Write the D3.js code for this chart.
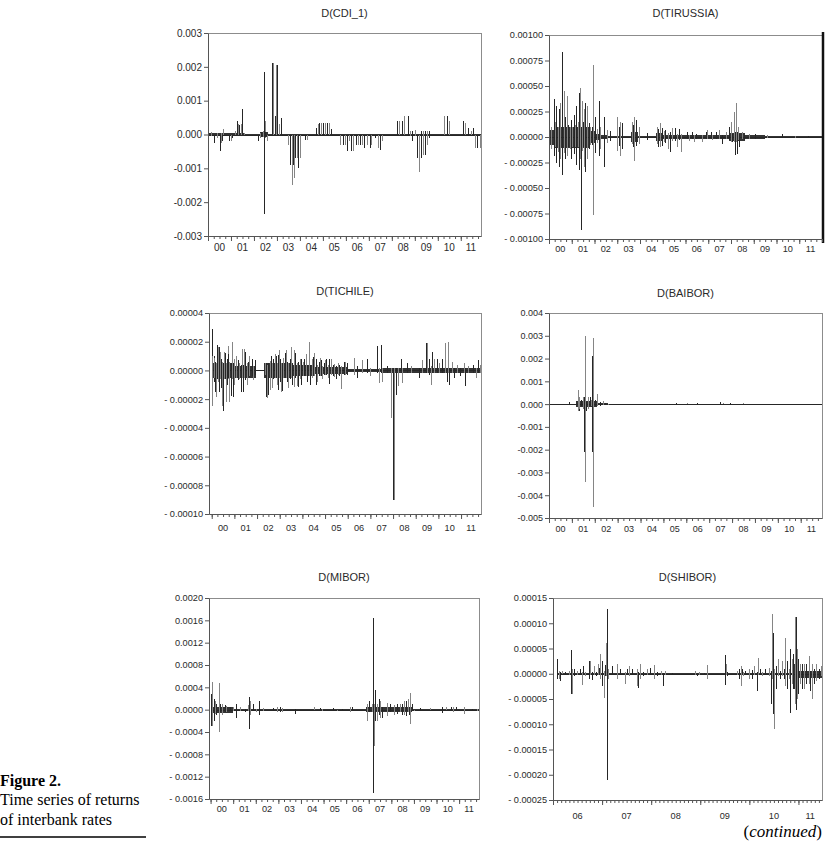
<!DOCTYPE html>
<html>
<head>
<meta charset="utf-8">
<script src="https://cdn.jsdelivr.net/npm/d3@7"></script>
<style>
  body { margin: 0; background: #fff; }
  svg { display: block; }
</style>
</head>
<body>
<div id="plotDiv"></div>
<script>
// ---- data: each spike is [year, high, low] ----
const cdiSpikes = [
  [2000.03, 0.00005, -0.00005], [2000.12, 0.00008, -0.00003], [2000.25, 0, -0.00024], [2000.40, 0.00003, -0.0001],
  [2000.52, 0, -0.0005], [2000.58, 0.00005, -0.00025], [2000.62, 0, -0.0002], [2000.66, 0.00015, 0],
  [2000.91, 0, -0.0002], [2000.99, 0, -0.0002], [2001.06, 0, -0.0001], [2001.17, 0.0001, 0],
  [2001.25, 0.0004, 0], [2001.30, 0.0003, 0], [2001.34, 0.00028, 0], [2001.43, 0.0003, 0],
  [2001.49, 0.00075, 0], [2001.55, 0.00005, -0.00002], [2002.17, 0, -0.0002], [2002.25, 0.00005, -0.0001],
  [2002.32, 0.00008, -0.00006], [2002.38, 0.0001, -0.00008], [2002.42, 0.00185, -0.00235], [2002.46, 0.0004, -0.0001],
  [2002.50, 0.00008, -0.00008], [2002.55, 0, -0.0002], [2002.79, 0.0021, 0], [2002.83, 0.0021, 0],
  [2002.92, 0.00055, 0], [2002.98, 0.00205, 0], [2003.02, 0.00205, 0], [2003.08, 0.0003, 0],
  [2003.16, 0.0005, 0], [2003.50, 0, -0.0003], [2003.57, 0, -0.0009], [2003.64, 0, -0.0015],
  [2003.70, 0, -0.0009], [2003.75, 0, -0.0013], [2003.79, 0, -0.0007], [2003.86, 0, -0.0007],
  [2003.91, 0, -0.001], [2004.00, 0, -0.0007], [2004.23, 0, -0.00015], [2004.30, 0, -0.00015],
  [2004.72, 0.0002, 0], [2004.77, 0.0003, 0], [2004.82, 0.00035, 0], [2004.91, 0.00035, 0],
  [2005.00, 0.00035, 0], [2005.09, 0.00035, 0], [2005.19, 0.00035, 0], [2005.27, 0.00035, 0],
  [2005.37, 0.00015, 0], [2005.75, 0, -0.0003], [2005.86, 0, -0.0003], [2005.97, 0, -0.0003],
  [2006.05, 0, -0.0005], [2006.15, 0, -0.0002], [2006.22, 0, -0.0005], [2006.33, 0, -0.0005],
  [2006.42, 0, -0.0003], [2006.52, 0, -0.0003], [2006.62, 0, -0.0003], [2006.71, 0, -0.0003],
  [2006.81, 0, -0.0004], [2006.92, 0, -0.0003], [2007.04, 0, -0.0004], [2007.11, 0, -0.0003],
  [2007.25, 0, -0.0001], [2007.40, 0, -0.0004], [2007.48, 0, -0.00045], [2007.57, 0, -0.0002],
  [2008.22, 0.0004, 0], [2008.32, 0.0004, 0], [2008.44, 0.0004, 0], [2008.55, 0.00055, 0],
  [2008.70, 0.00055, 0], [2008.80, 0.0001, -0.00005], [2008.88, 0.0001, -0.0002], [2009.00, 0.00012, -0.00005],
  [2009.10, 0, -0.0007], [2009.19, 0, -0.0011], [2009.28, 0.0001, -0.0007], [2009.37, 0.0001, -0.0006],
  [2009.44, 0.0001, -0.0006], [2009.51, 0.0001, -0.0003], [2009.60, 0.0001, -0.0001], [2010.28, 0.00055, 0],
  [2010.40, 0.00055, 0], [2010.50, 0.0004, 0], [2011.09, 0.0004, 0], [2011.17, 0.00035, 0],
  [2011.31, 0.0002, 0], [2011.43, 0.0001, 0], [2011.53, 0.0002, 0], [2011.61, 0, -0.0004],
  [2011.72, 0, -0.0004], [2011.83, 0, -0.0004]
];
const cdiBandT = [2000.0, 2001.6, 2002.25, 2002.6, 2011.88];
const cdiBandHi = [0.00003, 0.00001, 0.00008, 0.00001, 0.00001];
const cdiBandLo = [-0.00003, -0.00001, -0.00008, -0.00001, -0.00001];

const rusSpikes = [
  [2000.00, 0.00015, -0.00006], [2000.09, 0.0001, -0.00012], [2000.23, 0.00037, -0.00019], [2000.28, 0.00015, -0.0001],
  [2000.32, 0.0003, -0.00025], [2000.38, 0.0001, -0.00015], [2000.43, 0.00027, -0.00029], [2000.50, 0.00033, -0.00022],
  [2000.57, 0.00083, -0.00037], [2000.65, 0.00045, -0.00016], [2000.72, 0.0002, -0.00022], [2000.79, 0.0004, -0.00019],
  [2000.85, 0.00012, -0.0001], [2000.91, 0.0001, -0.00012], [2000.97, 0.00017, -0.00022], [2001.03, 0.0001, -0.0001],
  [2001.09, 0.00022, -0.00017], [2001.15, 0.00012, -0.0001], [2001.20, 0.0003, -0.00027], [2001.26, 0.00015, -0.0001],
  [2001.31, 0.00043, -0.00032], [2001.38, 0.00048, -0.00022], [2001.42, 0.0001, -0.00091], [2001.45, 0.00035, -0.00014],
  [2001.50, 0.00015, -0.0001], [2001.53, 0.00027, -0.00029], [2001.60, 0.00033, -0.00034], [2001.67, 0.0003, -0.00022],
  [2001.75, 0.00014, -0.00012], [2001.82, 0.0001, -0.00008], [2001.90, 0.0001, -0.00008], [2001.94, 0.00071, -0.00076],
  [2002.04, 0.0002, -0.00016], [2002.12, 0.00008, -0.00006], [2002.19, 0.00035, -0.00019], [2002.26, 0.0001, -0.00012],
  [2002.41, 0.0002, -0.00029], [2002.55, 0.00007, -0.00006], [2002.70, 0.00006, -0.00004], [2002.99, 0.0002, -0.00014],
  [2003.07, 0.0001, -0.00009], [2003.14, 0.00015, -0.00019], [2003.21, 0.00014, -0.00012], [2003.65, 0.00015, -0.00007],
  [2003.70, 0.00012, -0.0001], [2003.75, 0.0002, -0.00024], [2003.84, 0.00017, -0.00009], [2003.95, 0.0001, -0.00007],
  [2004.31, 0.00004, -0.00003], [2004.75, 0.0001, -0.00007], [2004.80, 0.00008, -0.0001], [2004.87, 0.00014, -0.0001],
  [2004.97, 0.00009, -0.00009], [2005.05, 0.00006, -0.00005], [2005.12, 0.00007, -0.00006], [2005.22, 0.00004, -0.00012],
  [2005.34, 0.00005, -0.00015], [2005.41, 0.00009, -0.00004], [2005.56, 0.00009, -0.00004], [2005.63, 0.00003, -0.0001],
  [2005.73, 0.00008, -0.00003], [2005.82, 0.00003, -0.00015], [2006.07, 0.00005, -0.00002], [2006.14, 0.00002, -0.00004],
  [2006.29, 0.00005, -0.00002], [2006.36, 0.00002, -0.00005], [2006.44, 0.00003, -0.00002], [2006.73, 0.00002, -0.00005],
  [2006.88, 0.00005, -0.00002], [2006.95, 0.00007, -0.00002], [2007.10, 0.00005, -0.00002], [2007.17, 0.00002, -0.00003],
  [2007.32, 0.00005, -0.00002], [2007.47, 0.00007, -0.00002], [2007.61, 0.00002, -0.00007], [2007.76, 0.00005, -0.00002],
  [2007.90, 0.0001, -0.00003], [2007.98, 0.00015, -0.00005], [2008.05, 0.00003, -0.00005], [2008.13, 0.00025, -0.00005],
  [2008.17, 0.00005, -0.00018], [2008.23, 0.00033, -0.00005], [2008.27, 0.00005, -0.00017], [2008.31, 0.0001, -0.00003],
  [2008.37, 0.00003, -0.0001], [2008.49, 0.00005, -0.00002], [2008.56, 0.00002, -0.00003], [2008.80, 0.00003, -0.00002],
  [2009.05, 0.00003, -0.00002], [2009.60, 0.00002, -0.00001], [2010.22, 0.00003, -0.00001], [2010.80, 0.00001, -0.00001],
  [2011.40, 0.00001, -0.00001]
];
const rusBandT = [2000.0, 2000.2, 2001.8, 2002.0, 2002.3, 2002.6, 2003.6, 2003.9, 2004.7, 2005.0, 2007.9, 2008.6, 2009.5, 2012.0];
const rusBandHi = [0.00007, 0.0001, 0.00006, 0.00003, 0.000015, 0.00001, 0.00005, 0.00001, 0.00004, 0.00002, 0.00004, 0.000015, 0.000006, 0.000006];
const rusBandLo = [-0.00008, -0.00011, -0.00006, -0.00003, -0.000015, -0.00001, -0.00005, -0.00001, -0.00004, -0.00002, -0.00004, -0.000015, -0.000006, -0.000006];

const chileSpikes = [
  [2000.00, 0.000029, -0.000008], [2000.02, 0.00001, -0.000025], [2000.09, 0.00001, -0.000008], [2000.12, 0.000009, -0.000005],
  [2000.16, 0.000006, -0.000015], [2000.19, 0.000005, -0.0000185], [2000.23, 0.000018, -0.000006], [2000.28, 0.000016, -0.000008],
  [2000.34, 0.000016, -0.000015], [2000.38, 0.000013, -0.000006], [2000.43, 0.000008, -0.000012], [2000.47, 0.000006, -0.000025],
  [2000.50, 0.000005, -0.000028], [2000.56, 0.0000127, -0.000006], [2000.60, 0.000012, -0.000006], [2000.63, 0.000005, -0.000022],
  [2000.67, 0.000008, -0.00001], [2000.72, 0.000017, -0.000006], [2000.74, 0.0000116, -0.000005], [2000.77, 0.000006, -0.000022],
  [2000.84, 0.000005, -0.000018], [2000.88, 0.0000197, -0.000006], [2000.93, 0.000005, -0.0000185], [2000.97, 0.000008, -0.00001],
  [2001.05, 0.000006, -0.000005], [2001.09, 0.00001, -0.000005], [2001.15, 0.000007, -0.000007], [2001.22, 0.000005, -0.000006],
  [2001.30, 0.000004, -0.000015], [2001.34, 0.000015, -0.000005], [2001.37, 0.000004, -0.000015], [2001.41, 0.000015, -0.000005],
  [2001.47, 0.0000127, -0.0000069], [2001.54, 0.000005, -0.00001], [2001.60, 0.000006, -0.000004], [2001.66, 0.00001, -0.000004],
  [2001.76, 0.000008, -0.000004], [2001.81, 0.000003, -0.0000069], [2001.91, 0.000007, -0.000003], [2002.35, 0.000005, -0.000003],
  [2002.40, 0.000005, -0.0000185], [2002.43, 0.000004, -0.000019], [2002.50, 0.000005, -0.000017], [2002.55, 0.0000069, -0.0000139],
  [2002.60, 0.00001, -0.000005], [2002.66, 0.000005, -0.000012], [2002.72, 0.000008, -0.000006], [2002.77, 0.0000116, -0.000005],
  [2002.83, 0.00001, -0.000005], [2002.87, 0.000005, -0.00001], [2002.91, 0.0000104, -0.0000139], [2002.96, 0.000014, -0.000005],
  [2003.02, 0.000008, -0.000008], [2003.06, 0.000005, -0.000015], [2003.10, 0.000005, -0.000014], [2003.16, 0.000009, -0.000005],
  [2003.23, 0.000012, -0.000005], [2003.28, 0.000014, -0.000005], [2003.34, 0.000006, -0.000008], [2003.38, 0.000005, -0.000012],
  [2003.45, 0.000008, -0.000006], [2003.50, 0.000016, -0.000005], [2003.56, 0.000005, -0.00001], [2003.62, 0.0000139, -0.0000116],
  [2003.68, 0.000012, -0.000005], [2003.75, 0.000005, -0.000011], [2003.80, 0.000006, -0.0000116], [2003.88, 0.000008, -0.000006],
  [2003.94, 0.0000081, -0.0000104], [2004.02, 0.000006, -0.000004], [2004.08, 0.000008, -0.000004], [2004.16, 0.0000116, -0.000004],
  [2004.22, 0.000004, -0.000008], [2004.31, 0.0000197, -0.000004], [2004.35, 0.000004, -0.00001], [2004.41, 0.000008, -0.000005],
  [2004.46, 0.0000092, -0.000004], [2004.52, 0.000012, -0.000004], [2004.60, 0.0000081, -0.0000104], [2004.66, 0.000004, -0.000008],
  [2004.72, 0.000006, -0.000004], [2004.79, 0.000009, -0.000004], [2004.83, 0.000007, -0.000004], [2004.88, 0.000003, -0.000006],
  [2004.95, 0.000005, -0.000003], [2005.01, 0.000007, -0.000003], [2005.05, 0.0000081, -0.000003], [2005.12, 0.000004, -0.000005],
  [2005.19, 0.0000081, -0.0000092], [2005.25, 0.000008, -0.000003], [2005.33, 0.000004, -0.000004], [2005.41, 0.0000046, -0.0000046],
  [2005.47, 0.000003, -0.000006], [2005.55, 0.000005, -0.000003], [2005.63, 0.000004, -0.000004], [2005.72, 0.000003, -0.000013],
  [2005.82, 0.000006, -0.000003], [2005.88, 0.0000058, -0.000003], [2005.97, 0.000005, -0.000003], [2006.26, 0.000009, -0.000003],
  [2006.41, 0.000003, -0.000005], [2006.63, 0.000007, -0.000002], [2006.85, 0.000008, -0.000002], [2007.00, 0.000002, -0.000004],
  [2007.30, 0.000017, -0.000002], [2007.40, 0.000002, -0.000009], [2007.49, 0.000018, -0.000002], [2007.52, 0.000002, -0.000008],
  [2007.74, 0.000003, -0.000002], [2007.89, 0.000002, -0.000033], [2007.99, 0.000002, -0.00009], [2008.06, 0.000002, -0.00009],
  [2008.15, 0.000002, -0.000017], [2008.21, 0.000002, -0.000011], [2008.33, 0.000008, -0.000002], [2008.40, 0.000002, -0.000009],
  [2008.60, 0.000005, -0.000002], [2008.77, 0.000003, -0.000002], [2009.14, 0.000002, -0.000005], [2009.29, 0.000007, -0.000002],
  [2009.47, 0.000019, -0.000002], [2009.51, 0.000019, -0.000002], [2009.59, 0.000008, -0.000003], [2009.66, 0.000003, -0.00001],
  [2009.73, 0.000013, -0.000002], [2009.81, 0.000008, -0.000002], [2009.93, 0.000008, -0.000002], [2010.03, 0.000005, -0.000002],
  [2010.18, 0.000008, -0.000002], [2010.28, 0.000019, -0.000002], [2010.37, 0.000002, -0.000008], [2010.43, 0.00002, -0.000002],
  [2010.47, 0.000002, -0.00001], [2010.62, 0.000006, -0.000002], [2010.69, 0.000002, -0.000005], [2010.84, 0.000004, -0.000002],
  [2010.96, 0.000002, -0.000004], [2011.14, 0.000005, -0.000002], [2011.18, 0.000002, -0.000011], [2011.29, 0.000003, -0.000002],
  [2011.51, 0.000004, -0.000002], [2011.65, 0.000002, -0.000005], [2011.73, 0.000007, -0.000002], [2011.85, 0.000004, -0.000002]
];
const chileBandT = [2000.0, 2001.0, 2001.95, 2002.3, 2003.5, 2004.5, 2006.0, 2007.5, 2008.3, 2009.8, 2011.88];
const chileBandHi = [0.000005, 0.000003, 0.0000005, 0.000005, 0.000004, 0.0000025, 0.0000012, 0.0000015, 0.000002, 0.0000015, 0.0000015];
const chileBandLo = [-0.000005, -0.000005, -0.0000005, -0.000005, -0.000004, -0.0000025, -0.0000012, -0.0000015, -0.000002, -0.0000015, -0.0000015];

const baiborSpikes = [
  [2000.89, 0.0001, 0], [2001.26, 0.0006, -0.0003], [2001.29, 0.0002, -0.0003], [2001.33, 0.0003, -0.0002],
  [2001.40, 0.0002, -0.0001], [2001.48, 0.0003, -0.0002], [2001.55, 0.0003, -0.0021], [2001.58, 0.003, -0.0034],
  [2001.62, 0.0001, -0.0003], [2001.70, 0.0003, -0.0002], [2001.77, 0.0003, -0.0001], [2001.84, 0.0002, -0.0001],
  [2001.89, 0.0021, -0.0021], [2001.94, 0.0029, -0.0045], [2002.03, 0.0002, -0.0001], [2002.11, 0.00045, -0.0001],
  [2002.21, 0.0001, -0.0001], [2002.35, 0.00015, -0.00005], [2002.43, 0.00003, -0.00005], [2002.57, 0.00002, -0.00005],
  [2005.57, 0.00003, 0], [2006.01, 0.00004, 0], [2006.45, 0.00003, 0], [2006.89, 0.00002, 0],
  [2007.47, 0.0001, 0], [2007.62, 0.00005, 0], [2007.91, 0.00003, 0], [2008.49, 0.00003, 0]
];
const baiborBandT = [2000.0, 2001.2, 2002.1, 2002.6, 2011.93];
const baiborBandHi = [0.00001, 0.00012, 0.00004, 0.00001, 0.00001];
const baiborBandLo = [-0.00001, -0.00012, -0.00004, -0.00001, -0.00001];

const miborSpikes = [
  [2000.03, 0.00028, -0.0003], [2000.07, 0.0005, -0.0003], [2000.13, 0.0002, -0.0002], [2000.18, 0.00015, -0.00008],
  [2000.25, 0.0001, -0.0001], [2000.37, 0.00048, -0.0004], [2000.43, 0.0001, -0.00005], [2000.52, 0.0001, -0.0001],
  [2000.62, 0.00008, -0.00005], [2000.70, 0.00007, -0.00005], [2000.84, 0.00005, -0.00003], [2000.99, 0.00005, -0.00003],
  [2001.14, 0.0001, -0.00015], [2001.29, 0.00005, -0.00003], [2001.51, 0.00002, -0.00005], [2001.66, 0.00008, -0.00003],
  [2001.70, 0.00022, -0.00035], [2001.76, 0.00015, -0.0001], [2001.88, 0.0001, -0.00003], [2002.00, 0.00002, -0.00005],
  [2002.15, 0.00015, -0.0001], [2002.33, 0.00003, -0.00002], [2002.77, 0.00003, -0.00002], [2002.92, 0.00004, -0.00004],
  [2003.07, 0.00005, -0.00005], [2003.14, 0.00003, -0.00005], [2003.73, 0.00002, -0.00008], [2004.58, 0.00004, 0],
  [2004.84, 0.00003, -0.00001], [2004.92, 0.00001, -0.00003], [2005.44, 0.00003, 0], [2005.59, 0, -0.00002],
  [2005.81, 0.00002, 0], [2006.18, 0.00005, -0.00005], [2006.25, 0.00005, -0.00002], [2006.92, 0.0001, -0.0002],
  [2006.99, 0.00015, -0.00005], [2007.14, 0.0001, -0.00005], [2007.21, 0.00165, -0.0015], [2007.24, 0.0001, -0.00065],
  [2007.29, 0.00035, -0.0002], [2007.36, 0.0001, -0.0002], [2007.44, 0.0002, -0.0001], [2007.51, 0.00015, -0.00015],
  [2007.59, 0.00005, -0.00015], [2007.81, 0.00012, -0.00012], [2007.96, 0.0001, -0.00005], [2008.10, 0.00008, -0.0001],
  [2008.25, 0.0001, -0.00008], [2008.40, 0.0001, -0.00005], [2008.47, 0.0001, -0.0001], [2008.58, 0.00015, -0.0001],
  [2008.67, 0.00015, -0.00012], [2008.73, 0.0002, -0.00005], [2008.77, 0.00005, -0.0001], [2008.84, 0.0003, -0.00025],
  [2008.92, 0.0001, -0.00003], [2008.99, 0, -0.00002], [2009.29, 0.00003, 0], [2009.73, 0.00003, 0],
  [2010.25, 0.00004, -0.00006], [2010.40, 0.00004, 0], [2010.62, 0.00004, -0.00002], [2010.74, 0.00004, -0.00004],
  [2010.84, 0.00004, 0], [2011.21, 0.00005, -0.00008], [2011.59, 0.00002, 0], [2011.78, 0.00002, -0.00002]
];
const miborBandT = [2000.0, 2001.0, 2002.2, 2006.9, 2008.9, 2011.88];
const miborBandHi = [0.00005, 0.00002, 0.00001, 0.00005, 0.00001, 0.00001];
const miborBandLo = [-0.00006, -0.00002, -0.00001, -0.00005, -0.00001, -0.00001];

const shiborSpikes = [
  [2006.08, 0.00003, -0.00001], [2006.12, 0.000005, -0.00001], [2006.15, 0.000003, -0.000015], [2006.18, 0.000005, 0],
  [2006.25, 0.000003, -0.000003], [2006.32, 0.000005, -0.000002], [2006.37, 0.000048, -0.00004], [2006.39, 0.00001, -0.00004],
  [2006.42, 0.00001, -0.000005], [2006.49, 0.000005, -0.000003], [2006.56, 0.00001, -0.000003], [2006.59, 0.000003, -0.000022],
  [2006.62, 0.000015, -0.000003], [2006.66, 0.000003, -0.000005], [2006.73, 0.000025, -0.00001], [2006.76, 0.000025, -0.000003],
  [2006.79, 0.000003, -0.000012], [2006.83, 0.000015, -0.000003], [2006.88, 0.000003, -0.000005], [2006.91, 0.00002, -0.000003],
  [2006.93, 0.000012, -0.000003], [2006.96, 0.00004, -0.00001], [2007.00, 0.000025, -0.000025], [2007.03, 0.000005, -0.000048],
  [2007.05, 0.000018, -0.000005], [2007.08, 0.00006, -0.000005], [2007.10, 0.000128, -0.00021], [2007.13, 0.00001, -0.00001],
  [2007.20, 0.000015, -0.000003], [2007.30, 0.00002, -0.00001], [2007.37, 0.00001, -0.000003], [2007.47, 0.000003, -0.00002],
  [2007.51, 0.00001, -0.000003], [2007.54, 0.000015, -0.000005], [2007.61, 0.00001, -0.000003], [2007.71, 0.00001, -0.000025],
  [2007.74, 0.000003, -0.000028], [2007.78, 0.00002, -0.00001], [2007.83, 0.000003, -0.000005], [2007.91, 0.00001, -0.000003],
  [2007.98, 0.000012, -0.000003], [2008.05, 0.000018, -0.00001], [2008.12, 0.000003, -0.000005], [2008.19, 0.000005, -0.000002],
  [2008.24, 0.000002, -0.000025], [2008.29, 0.000005, -0.000002], [2008.42, 0.000002, -0.000003], [2008.90, 0.000005, -0.000002],
  [2008.93, 0.000002, -0.000005], [2008.97, 0.000004, -0.000002], [2009.07, 0.000002, -0.000003], [2009.14, 0.000018, -0.00001],
  [2009.50, 0.000038, -0.000022], [2009.52, 0.00002, -0.000003], [2009.54, 0.000003, -0.000005], [2009.75, 0.000005, -0.000002],
  [2009.78, 0.00001, -0.00001], [2009.82, 0.000015, -0.000025], [2009.85, 0.00001, -0.000003], [2009.88, 0.000003, -0.000005],
  [2009.92, 0.000005, -0.000002], [2009.99, 0.00001, -0.00001], [2010.05, 0.000008, -0.00001], [2010.09, 0.000015, -0.000003],
  [2010.15, 0.000003, -0.000035], [2010.18, 0.000032, -0.000003], [2010.22, 0.00001, -0.000003], [2010.26, 0.000003, -0.000005],
  [2010.32, 0.00001, -0.000003], [2010.41, 0.000012, -0.000005], [2010.44, 0.000005, -0.00006], [2010.47, 0.000118, -0.00001],
  [2010.49, 0.00008, -0.00008], [2010.51, 0.00001, -0.00011], [2010.54, 0.000015, -0.00003], [2010.58, 0.00003, -0.000005],
  [2010.62, 0.000005, -0.00001], [2010.66, 0.000025, -0.000005], [2010.70, 0.00001, -0.00001], [2010.73, 0.00007, -0.000025],
  [2010.77, 0.000025, -0.00003], [2010.80, 0.00001, -0.00001], [2010.83, 0.00005, -0.000078], [2010.87, 0.00003, -0.00002],
  [2010.89, 0.00004, -0.00003], [2010.92, 0.000112, -0.00006], [2010.95, 0.000113, -0.000072], [2010.97, 0.00005, -0.00005],
  [2011.00, 0.00003, -0.00004], [2011.04, 0.00002, -0.00002], [2011.07, 0.00002, -0.00003], [2011.11, 0.00002, -0.00003],
  [2011.15, 0.00002, -0.00002], [2011.21, 0.000035, -0.00002], [2011.24, 0.000005, -0.000035], [2011.27, 0.00002, -0.00005],
  [2011.31, 0.00001, -0.00002], [2011.36, 0.00002, -0.000015], [2011.41, 0.00001, -0.00001], [2011.46, 0.000015, -0.000005]
];
const shiborBandT = [2006.08, 2010.88, 2011.0, 2011.48];
const shiborBandHi = [0.000001, 0.00002, 0.000005, 0.000005];
const shiborBandLo = [-0.000001, -0.00003, -0.000008, -0.000008];

// ---- tick values and labels ----
const cdiTicks = [0.003, 0.002, 0.001, 0, -0.001, -0.002, -0.003];
const cdiTickLabels = ["0.003", "0.002", "0.001", "0.000", "-0.001", "-0.002", "-0.003"];
const rusTicks = [0.001, 0.00075, 0.0005, 0.00025, 0, -0.00025, -0.0005, -0.00075, -0.001];
const rusTickLabels = ["0.00100", "0.00075", "0.00050", "0.00025", "0.00000", "- 0.00025", "- 0.00050", "- 0.00075", "- 0.00100"];
const chileTicks = [0.00004, 0.00002, 0, -0.00002, -0.00004, -0.00006, -0.00008, -0.0001];
const chileTickLabels = ["0.00004", "0.00002", "0.00000", "- 0.00002", "- 0.00004", "- 0.00006", "- 0.00008", "- 0.00010"];
const baiborTicks = [0.004, 0.003, 0.002, 0.001, 0, -0.001, -0.002, -0.003, -0.004, -0.005];
const baiborTickLabels = ["0.004", "0.003", "0.002", "0.001", "0.000", "-0.001", "-0.002", "-0.003", "-0.004", "-0.005"];
const miborTicks = [0.002, 0.0016, 0.0012, 0.0008, 0.0004, 0, -0.0004, -0.0008, -0.0012, -0.0016];
const miborTickLabels = ["0.0020", "0.0016", "0.0012", "0.0008", "0.0004", "0.0000", "- 0.0004", "- 0.0008", "- 0.0012", "- 0.0016"];
const shiborTicks = [0.00015, 0.0001, 0.00005, 0, -0.00005, -0.0001, -0.00015, -0.0002, -0.00025];
const shiborTickLabels = ["0.00015", "0.00010", "0.00005", "0.00000", "- 0.00005", "- 0.00010", "- 0.00015", "- 0.00020", "- 0.00025"];

const yearsLong = [2000, 2001, 2002, 2003, 2004, 2005, 2006, 2007, 2008, 2009, 2010, 2011];
const yearLabelsLong = ["00", "01", "02", "03", "04", "05", "06", "07", "08", "09", "10", "11"];
const yearsShibor = [2006, 2007, 2008, 2009, 2010, 2011];
const yearLabelsShibor = ["06", "07", "08", "09", "10", "11"];

// ---- layout of the six panels ----
const panels = [
  {title: "D(CDI_1)", spikes: cdiSpikes, bandT: cdiBandT, bandHi: cdiBandHi, bandLo: cdiBandLo,
   ticks: cdiTicks, tickLabels: cdiTickLabels, years: yearsLong, yearLabels: yearLabelsLong,
   domain: [2000, 2011.88], dataRange: [2000, 2011.88], perYear: 4,
   left: 208, right: 481, top: 33, bottom: 236, titleY: 17, labelDy: 15, font: 10},
  {title: "D(TIRUSSIA)", spikes: rusSpikes, bandT: rusBandT, bandHi: rusBandHi, bandLo: rusBandLo,
   ticks: rusTicks, tickLabels: rusTickLabels, years: yearsLong, yearLabels: yearLabelsLong,
   domain: [2000, 2012], dataRange: [2000, 2012], perYear: 4,
   left: 549, right: 822, top: 35, bottom: 239, titleY: 17, labelDy: 13, font: 9.2, darkRight: true},
  {title: "D(TICHILE)", spikes: chileSpikes, bandT: chileBandT, bandHi: chileBandHi, bandLo: chileBandLo,
   ticks: chileTicks, tickLabels: chileTickLabels, years: yearsLong, yearLabels: yearLabelsLong,
   domain: [1999.88, 2011.88], dataRange: [2000, 2011.88], perYear: 4,
   left: 209, right: 481, top: 313, bottom: 514, titleY: 295, labelDy: 17, font: 9.2},
  {title: "D(BAIBOR)", spikes: baiborSpikes, bandT: baiborBandT, bandHi: baiborBandHi, bandLo: baiborBandLo,
   ticks: baiborTicks, tickLabels: baiborTickLabels, years: yearsLong, yearLabels: yearLabelsLong,
   domain: [2000, 2011.93], dataRange: [2000, 2011.93], perYear: 4,
   left: 549, right: 822, top: 313, bottom: 518, titleY: 297, labelDy: 14, font: 9},
  {title: "D(MIBOR)", spikes: miborSpikes, bandT: miborBandT, bandHi: miborBandHi, bandLo: miborBandLo,
   ticks: miborTicks, tickLabels: miborTickLabels, years: yearsLong, yearLabels: yearLabelsLong,
   domain: [1999.93, 2011.88], dataRange: [2000, 2011.88], perYear: 4,
   left: 209, right: 479, top: 598, bottom: 799, titleY: 581, labelDy: 13, font: 9.2},
  {title: "D(SHIBOR)", spikes: shiborSpikes, bandT: shiborBandT, bandHi: shiborBandHi, bandLo: shiborBandLo,
   ticks: shiborTicks, tickLabels: shiborTickLabels, years: yearsShibor, yearLabels: yearLabelsShibor,
   domain: [2006, 2011.48], dataRange: [2006.08, 2011.48], perYear: 12,
   left: 553, right: 822, top: 598, bottom: 800, titleY: 581, labelDy: 19, font: 9.2}
];

const svg = d3.select("#plotDiv").append("svg")
  .attr("width", 827)
  .attr("height", 843)
  .style("font-family", "'Liberation Sans', Arial, sans-serif");

const darkLine = "#262626";
const greyLine = "#858585";

panels.forEach(function(p) {
  const g = svg.append("g");
  const x = d3.scaleLinear().domain(p.domain).range([p.left, p.right]);
  const y = d3.scaleLinear()
    .domain([p.ticks[p.ticks.length - 1], p.ticks[0]])
    .range([p.bottom, p.top]);

  // title
  g.append("text")
    .attr("x", (p.left + p.right) / 2)
    .attr("y", p.titleY)
    .attr("text-anchor", "middle")
    .style("font-size", "11px")
    .style("fill", "#2a2a2a")
    .text(p.title);

  // top and right border of the plot box
  g.append("path")
    .attr("d", `M${p.left},${p.top + 0.5}H${p.right + 0.5}V${p.bottom}`)
    .attr("fill", "none")
    .attr("stroke", "#8c8c8c")
    .attr("stroke-width", 1)
    .attr("shape-rendering", "crispEdges");
  if (p.darkRight) {
    g.append("line")
      .attr("x1", p.right + 1).attr("x2", p.right + 1)
      .attr("y1", p.top - 3).attr("y2", p.bottom + 4)
      .attr("stroke", "#111").attr("stroke-width", 2.5);
  }

  // dense noise envelope
  const band = p.bandT.map((t, i) => ({t: t, hi: p.bandHi[i], lo: p.bandLo[i]}));
  g.append("path")
    .datum(band)
    .attr("d", d3.area().curve(d3.curveStepAfter)
      .x(d => x(d.t)).y0(d => y(d.lo)).y1(d => y(d.hi)))
    .attr("fill", "#333")
    .attr("shape-rendering", "crispEdges");

  // zero level of the series
  g.append("line")
    .attr("x1", x(p.dataRange[0])).attr("x2", x(p.dataRange[1]))
    .attr("y1", Math.round(y(0)) + 0.5).attr("y2", Math.round(y(0)) + 0.5)
    .attr("stroke", darkLine).attr("stroke-width", 1)
    .attr("shape-rendering", "crispEdges");

  // spikes, alternating dark and grey like the printed line
  g.selectAll(".spike")
    .data(p.spikes)
    .join("line")
    .attr("class", "spike")
    .attr("x1", d => Math.round(x(d[0])) + 0.5)
    .attr("x2", d => Math.round(x(d[0])) + 0.5)
    .attr("y1", d => y(d[1]))
    .attr("y2", d => y(d[2]))
    .attr("stroke", (d, i) => i % 2 ? greyLine : darkLine)
    .attr("stroke-width", 1)
    .attr("shape-rendering", "crispEdges");

  // y axis
  const yAxis = d3.axisLeft(y)
    .tickValues(p.ticks)
    .tickFormat((d, i) => p.tickLabels[i])
    .tickSize(4)
    .tickSizeOuter(0)
    .tickPadding(2);
  const ya = g.append("g")
    .attr("transform", `translate(${p.left},0)`)
    .call(yAxis);
  ya.selectAll("text").style("font-size", p.font + "px").style("fill", "#2a2a2a").attr("font-family", null);
  ya.selectAll("line, path").attr("stroke", "#555");

  // x axis: minor ticks, then year ticks
  const d0 = p.domain[0], d1 = p.domain[1];
  const minorTicks = d3.range(Math.ceil(d0 * p.perYear), Math.floor(d1 * p.perYear) + 1).map(k => k / p.perYear);
  const majorTicks = p.years.filter(v => v >= d0 && v <= d1);
  const xa = g.append("g")
    .attr("transform", `translate(0,${p.bottom})`)
    .call(d3.axisBottom(x).tickValues(minorTicks).tickSize(3).tickSizeOuter(0).tickFormat(""));
  xa.selectAll("line, path").attr("stroke", "#555");
  const xb = g.append("g")
    .attr("transform", `translate(0,${p.bottom})`)
    .call(d3.axisBottom(x).tickValues(majorTicks).tickSize(5).tickSizeOuter(0).tickFormat(""));
  xb.selectAll("line, path").attr("stroke", "#555");

  // year labels centred on the visible part of each year
  g.selectAll(".yearLabel")
    .data(p.years)
    .join("text")
    .attr("class", "yearLabel")
    .attr("x", d => x((Math.max(d, d0) + Math.min(d + 1, d1)) / 2))
    .attr("y", p.bottom + p.labelDy)
    .attr("text-anchor", "middle")
    .style("font-size", p.font + "px")
    .style("fill", "#2a2a2a")
    .text((d, i) => p.yearLabels[i]);
});

// ---- caption ----
const cap = svg.append("g").style("font-family", "'Liberation Serif', 'Times New Roman', serif");
cap.append("text").attr("x", 0).attr("y", 786)
  .style("font-size", "16px").style("font-weight", "bold").text("Figure 2.");
cap.append("text").attr("x", 0).attr("y", 805)
  .style("font-size", "16px").text("Time series of returns");
cap.append("text").attr("x", 0).attr("y", 825)
  .style("font-size", "16px").text("of interbank rates");
cap.append("line").attr("x1", 0).attr("x2", 146).attr("y1", 837).attr("y2", 837)
  .attr("stroke", "#000").attr("stroke-width", 1.5);

const cont = cap.append("text").attr("x", 822).attr("y", 837)
  .attr("text-anchor", "end").style("font-size", "17px");
cont.append("tspan").text("(");
cont.append("tspan").style("font-style", "italic").text("continued");
cont.append("tspan").text(")");
</script>
</body>
</html>
